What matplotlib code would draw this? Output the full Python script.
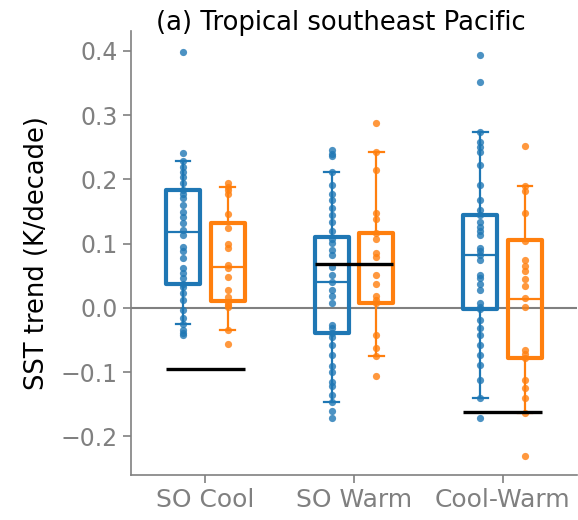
import numpy as np
import matplotlib
matplotlib.use('Agg')
import matplotlib.pyplot as plt

# categories and colours
groups = ['SO Cool', 'SO Warm', 'Cool-Warm']
c_blue = '#1f77b4'
c_orange = '#ff7f0e'
grey = '#808080'

# individual trends (K/decade)
cool_blue = [0.398, 0.241, 0.229, 0.220, 0.212, 0.204, 0.194, 0.183, 0.178, 0.171,
             0.160, 0.150, 0.142, 0.132, 0.121, 0.113, 0.095, 0.088, 0.077, 0.062,
             0.054, 0.046, 0.037, 0.033, 0.023, 0.012, -0.003, -0.016, -0.025,
             -0.034, -0.039, -0.042]
cool_orange = [0.195, 0.188, 0.183, 0.178, 0.146, 0.124, 0.100, 0.093, 0.067, 0.062,
               0.048, 0.028, 0.017, 0.008, 0.005, 0.002, -0.035, -0.056]
warm_blue = [0.246, 0.240, 0.236, 0.212, 0.191, 0.178, 0.168, 0.155, 0.145, 0.134,
             0.119, 0.108, 0.101, 0.090, 0.082, 0.064, 0.051, 0.041, 0.028, 0.018,
             0.007, -0.026, -0.032, -0.039, -0.045, -0.058, -0.073, -0.091, -0.099,
             -0.115, -0.122, -0.135, -0.147, -0.161, -0.172]
warm_orange = [0.288, 0.242, 0.214, 0.147, 0.139, 0.116, 0.108, 0.085, 0.080, 0.051,
               0.038, 0.018, 0.012, 0.007, -0.042, -0.063, -0.075, -0.106]
cw_blue = [0.393, 0.352, 0.274, 0.259, 0.251, 0.243, 0.222, 0.191, 0.168, 0.152,
           0.144, 0.134, 0.126, 0.119, 0.114, 0.093, 0.088, 0.082, 0.075, 0.051,
           0.046, 0.038, 0.028, 0.007, 0.002, -0.001, -0.019, -0.032, -0.042,
           -0.058, -0.073, -0.089, -0.112, -0.140, -0.172]
cw_orange = [0.252, 0.190, 0.182, 0.147, 0.104, 0.075, 0.066, 0.058, 0.045, 0.034,
             0.015, 0.001, -0.066, -0.071, -0.078, -0.112, -0.125, -0.140, -0.164,
             -0.230]

# box statistics: whisker low, q1, median, q3, whisker high
blue_stats = [[-0.025, 0.037, 0.118, 0.183, 0.229],
              [-0.147, -0.039, 0.041, 0.111, 0.212],
              [-0.140, -0.001, 0.082, 0.144, 0.274]]
orange_stats = [[-0.035, 0.011, 0.063, 0.132, 0.188],
                [-0.075, 0.007, 0.067, 0.116, 0.242],
                [-0.164, -0.078, 0.014, 0.105, 0.190]]

# observed trend per group (black bars)
observed = [-0.095, 0.068, -0.162]

blue_pts = [cool_blue, warm_blue, cw_blue]
orange_pts = [cool_orange, warm_orange, cw_orange]

fig = plt.figure(figsize=(5.78, 5.2), dpi=100)
ax = fig.add_axes([131/578, 1-475/520, 446/578, 444/520])

x = np.arange(len(groups))
off = 0.15
width = 0.23

ax.axhline(0, color=grey, lw=1.5, zorder=0)


def to_bxp(s):
    return dict(whislo=s[0], q1=s[1], med=s[2], q3=s[3], whishi=s[4], fliers=[])


for stats, pts, col, sign in [(blue_stats, blue_pts, c_blue, -1),
                              (orange_stats, orange_pts, c_orange, 1)]:
    pos = x + sign*off
    ax.bxp([to_bxp(s) for s in stats], positions=pos, widths=width,
           showfliers=False, patch_artist=True,
           boxprops=dict(facecolor='none', edgecolor=col, linewidth=3,
                         joinstyle='round'),
           medianprops=dict(color=col, linewidth=1.6),
           whiskerprops=dict(color=col, linewidth=1.6),
           capprops=dict(color=col, linewidth=1.6),
           capwidths=0.1, zorder=2)
    for p, vals in zip(pos, pts):
        ax.plot(np.full(len(vals), p), vals, 'o', color=col, ms=5.2,
                alpha=0.8, mec='none', zorder=3)

for xi, ob in zip(x, observed):
    ax.plot([xi - off - width/2, xi + off + width/2], [ob, ob],
            color='black', lw=2.4, solid_capstyle='butt', zorder=4)

ax.set_xlim(-0.5, 2.5)
ax.set_ylim(-0.26, 0.431)
ax.set_xticks(x)
ax.set_xticklabels(groups)
ax.set_yticks(np.arange(-0.2, 0.41, 0.1))

for side in ['top', 'right']:
    ax.spines[side].set_visible(False)
for side in ['left', 'bottom']:
    ax.spines[side].set_color(grey)
    ax.spines[side].set_linewidth(1.2)
ax.tick_params(axis='both', colors=grey, length=6, width=1.2)
ax.tick_params(axis='y', labelsize=17)
ax.tick_params(axis='x', labelsize=18)

ax.set_ylabel('SST trend (K/decade)', fontsize=18.5, color='black', labelpad=8)
ax.text((341-131)/446, 1.002, '(a) Tropical southeast Pacific', transform=ax.transAxes,
        ha='center', va='baseline', fontsize=18.6)

fig.savefig('out.png', dpi=100)
